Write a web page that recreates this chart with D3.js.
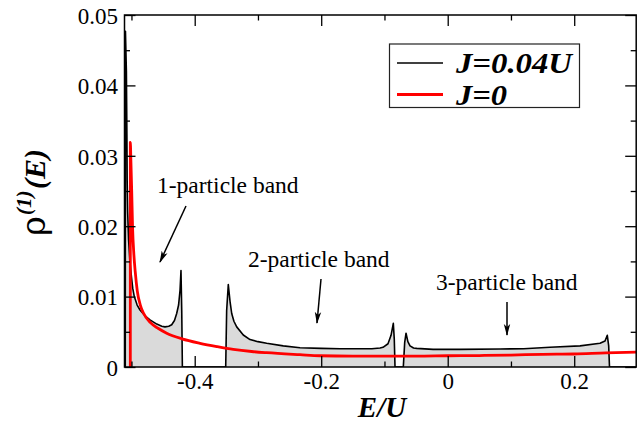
<!DOCTYPE html>
<html>
<head>
<meta charset="utf-8">
<script src="https://cdn.jsdelivr.net/npm/d3@7/dist/d3.min.js"></script>
<style>
  html, body { margin: 0; padding: 0; background: #fff; }
  svg { display: block; }
</style>
</head>
<body>
<svg id="chart" width="637" height="424"></svg>
<script>
// ---- data ----
// J = 0.04U, rho^(1)(E): energies and values
const blackE = [-0.5098, -0.5095, -0.5080, -0.5072, -0.5068, -0.5060, -0.5045, -0.5025, -0.5000, -0.4980,
  -0.4955, -0.4910, -0.4865, -0.4790, -0.4707, -0.4600, -0.4520, -0.4470, -0.4410, -0.4364,
  -0.4320, -0.4285, -0.4255, -0.4232, -0.4217, -0.4205, -0.4195,
  -0.3510, -0.3495, -0.3469, -0.3440, -0.3415, -0.3380, -0.3336, -0.3232, -0.3126, -0.3000,
  -0.2862, -0.2600, -0.2335, -0.2000, -0.1700, -0.1400, -0.1200, -0.1070, -0.1023, -0.0944,
  -0.0896, -0.0860, -0.0845, -0.0833,
  -0.0702, -0.0680, -0.0659, -0.0630, -0.0596, -0.0540, -0.0490, -0.0232, 0.0200, 0.0827,
  0.1200, 0.1617, 0.2092, 0.2408, 0.2487, 0.2523, 0.2545, 0.2558, 0.2980];
const blackRho = [0, 0.0477, 0.0420, 0.0330, 0.0266, 0.0220, 0.0180, 0.0150, 0.0128, 0.0112,
  0.0100, 0.0088, 0.0081, 0.0073, 0.0067, 0.0061, 0.0058, 0.0057, 0.0058, 0.0060,
  0.0066, 0.0076, 0.0088, 0.0109, 0.0137, 0.0080, 0,
  0, 0.0080, 0.0117, 0.0092, 0.0076, 0.0065, 0.0057, 0.00455, 0.0039, 0.0036,
  0.00337, 0.0030, 0.00274, 0.00265, 0.0026, 0.0026, 0.0026, 0.0027, 0.0028, 0.0033,
  0.0045, 0.0062, 0.0040, 0,
  0, 0.0035, 0.0048, 0.0036, 0.0030, 0.0027, 0.00265, 0.0025, 0.0025, 0.00256,
  0.0026, 0.0028, 0.0030, 0.00337, 0.0037, 0.0045, 0.0030, 0, 0];

// J = 0
const redE = [-0.5018, -0.5018, -0.5008, -0.4996, -0.4983, -0.4962, -0.4940, -0.4908, -0.4860, -0.4813,
  -0.4700, -0.4580, -0.4443, -0.4200, -0.3916, -0.3650, -0.3390, -0.3100, -0.2862, -0.2335,
  -0.2019, -0.1500, -0.1000, -0.0500, 0.0000, 0.0500, 0.1000, 0.1500, 0.2000, 0.2500, 0.2980];
const redRho = [0, 0.0319, 0.0290, 0.0250, 0.0200, 0.0160, 0.0135, 0.0108, 0.0088, 0.0077,
  0.0063, 0.0055, 0.0048, 0.0040, 0.00337, 0.0029, 0.0025, 0.0022, 0.00203, 0.00175,
  0.0016, 0.00155, 0.00155, 0.00155, 0.0016, 0.00163, 0.0017, 0.0018, 0.00185, 0.0020, 0.0021];

const xMajorTicks = [-0.4, -0.2, 0, 0.2];
const xTickLabels = ["-0.4", "-0.2", "0", "0.2"];
const xMinorTicks = [-0.5, -0.3, -0.1, 0.1];
const yMajorTicks = [0, 0.01, 0.02, 0.03, 0.04, 0.05];
const yTickLabels = ["0", "0.01", "0.02", "0.03", "0.04", "0.05"];
const yMinorTicks = [0.005, 0.015, 0.025, 0.035, 0.045];

const seriesNames = ["J=0.04U", "J=0"];
const annotations = ["1-particle band", "2-particle band", "3-particle band"];

// ---- drawing ----
const svg = d3.select("#chart");
const L = 124.5, R = 636.2, T = 15, B = 367;
const x = d3.scaleLinear().domain([-0.511, 0.298]).range([L, R]);
const y = d3.scaleLinear().domain([0, 0.05]).range([B, T]);

const blackData = blackE.map((e, i) => [e, blackRho[i]]);
const redData = redE.map((e, i) => [e, redRho[i]]);

const defs = svg.append("defs");
defs.append("clipPath").attr("id", "clip")
  .append("rect").attr("x", L).attr("y", T).attr("width", R - L).attr("height", B - T);

defs.append("marker")
  .attr("id", "arrow").attr("viewBox", "0 0 12 8")
  .attr("refX", 11).attr("refY", 4)
  .attr("markerWidth", 12).attr("markerHeight", 8)
  .attr("markerUnits", "userSpaceOnUse")
  .attr("orient", "auto")
  .append("path").attr("d", "M0,0.8 L12,4 L0,7.2 L3,4 Z").attr("fill", "#000");

const plot = svg.append("g").attr("clip-path", "url(#clip)");

plot.append("path")
  .datum(blackData)
  .attr("fill", "#dadada")
  .attr("d", d3.area().x(d => x(d[0])).y0(y(0)).y1(d => y(d[1])));

plot.append("path")
  .datum(blackData)
  .attr("fill", "none").attr("stroke", "#000").attr("stroke-width", 1.6)
  .attr("stroke-linejoin", "round")
  .attr("d", d3.line().x(d => x(d[0])).y(d => y(d[1])));

plot.append("path")
  .datum(redData)
  .attr("fill", "none").attr("stroke", "#ff0000").attr("stroke-width", 2.8)
  .attr("stroke-linejoin", "round")
  .attr("d", d3.line().x(d => x(d[0])).y(d => y(d[1])).curve(d3.curveMonotoneX));

// ---- axes (inward ticks on all sides) ----
const axStroke = 1.5;
function styleAxis(g) {
  g.select(".domain").remove();
  g.selectAll(".tick line").attr("stroke", "#000").attr("stroke-width", 1.3);
}
const fontTick = "'Liberation Serif', 'Times New Roman', serif";

// bottom
svg.append("g").attr("transform", `translate(0,${B})`)
  .call(d3.axisBottom(x).tickValues(xMajorTicks).tickSizeInner(-11).tickSizeOuter(0)
    .tickFormat((d, i) => xTickLabels[i]).tickPadding(6))
  .call(styleAxis)
  .call(g => g.selectAll("text").attr("font-family", fontTick).attr("font-size", 23).attr("fill", "#000"));
svg.append("g").attr("transform", `translate(0,${B})`)
  .call(d3.axisBottom(x).tickValues(xMinorTicks).tickSizeInner(-5.5).tickSizeOuter(0).tickFormat(""))
  .call(styleAxis);
// top
svg.append("g").attr("transform", `translate(0,${T})`)
  .call(d3.axisTop(x).tickValues(xMajorTicks).tickSizeInner(-11).tickSizeOuter(0).tickFormat(""))
  .call(styleAxis);
svg.append("g").attr("transform", `translate(0,${T})`)
  .call(d3.axisTop(x).tickValues(xMinorTicks).tickSizeInner(-5.5).tickSizeOuter(0).tickFormat(""))
  .call(styleAxis);
// left
svg.append("g").attr("transform", `translate(${L},0)`)
  .call(d3.axisLeft(y).tickValues(yMajorTicks).tickSizeInner(-11).tickSizeOuter(0)
    .tickFormat((d, i) => yTickLabels[i]).tickPadding(6.5))
  .call(styleAxis)
  .call(g => g.selectAll("text").attr("font-family", fontTick).attr("font-size", 23).attr("fill", "#000").attr("dy", "0.36em"));
svg.append("g").attr("transform", `translate(${L},0)`)
  .call(d3.axisLeft(y).tickValues(yMinorTicks).tickSizeInner(-5.5).tickSizeOuter(0).tickFormat(""))
  .call(styleAxis);
// right
svg.append("g").attr("transform", `translate(${R},0)`)
  .call(d3.axisRight(y).tickValues(yMajorTicks).tickSizeInner(-11).tickSizeOuter(0).tickFormat(""))
  .call(styleAxis);
svg.append("g").attr("transform", `translate(${R},0)`)
  .call(d3.axisRight(y).tickValues(yMinorTicks).tickSizeInner(-5.5).tickSizeOuter(0).tickFormat(""))
  .call(styleAxis);

// frame
svg.append("rect").attr("x", L).attr("y", T).attr("width", R - L).attr("height", B - T)
  .attr("fill", "none").attr("stroke", "#000").attr("stroke-width", axStroke);

// ---- axis titles ----
svg.append("text")
  .attr("x", 382).attr("y", 417)
  .attr("text-anchor", "middle")
  .attr("font-family", fontTick).attr("font-size", 29)
  .attr("font-weight", "bold").attr("font-style", "italic")
  .text("E/U");

const yt = svg.append("g").attr("transform", "translate(45,236) rotate(-90)");
yt.append("text").attr("x", 0).attr("y", 0)
  .attr("font-family", "'DejaVu Serif', serif").attr("font-size", 34).text("ρ");
yt.append("text").attr("x", 21).attr("y", -14)
  .attr("font-family", fontTick).attr("font-size", 21)
  .attr("font-weight", "bold").attr("font-style", "italic").text("(1)");
yt.append("text").attr("x", 47).attr("y", 0)
  .attr("font-family", fontTick).attr("font-size", 30)
  .attr("font-weight", "bold").attr("font-style", "italic").text("(E)");

// ---- annotations ----
const annPos = [[157, 193], [248, 267], [436, 290]];
annotations.forEach((t, i) => {
  svg.append("text").attr("x", annPos[i][0]).attr("y", annPos[i][1])
    .attr("font-family", fontTick).attr("font-size", 23.5).text(t);
});
const arrows = [[186, 206, 160, 262], [321, 279, 317, 323], [507, 302, 507, 335]];
arrows.forEach(a => {
  svg.append("line").attr("x1", a[0]).attr("y1", a[1]).attr("x2", a[2]).attr("y2", a[3])
    .attr("stroke", "#000").attr("stroke-width", 1.5).attr("marker-end", "url(#arrow)");
});

// ---- legend ----
const lg = svg.append("g");
lg.append("rect").attr("x", 389.5).attr("y", 44).attr("width", 190).attr("height", 63.5)
  .attr("fill", "#fff").attr("stroke", "#222").attr("stroke-width", 1.2);
const legendColors = ["#000", "#ff0000"];
const legendWidths = [1.6, 2.8];
const legendY = [63, 94.5];
const legendBase = [73, 104.5];
const legendLen = [116, 51];
seriesNames.forEach((n, i) => {
  lg.append("line").attr("x1", 397).attr("x2", 443).attr("y1", legendY[i]).attr("y2", legendY[i])
    .attr("stroke", legendColors[i]).attr("stroke-width", legendWidths[i]);
  lg.append("text").attr("x", 456).attr("y", legendBase[i])
    .attr("font-family", fontTick).attr("font-size", 28.5)
    .attr("font-weight", "bold").attr("font-style", "italic")
    .attr("textLength", legendLen[i]).attr("lengthAdjust", "spacingAndGlyphs").text(n);
});
</script>
</body>
</html>
